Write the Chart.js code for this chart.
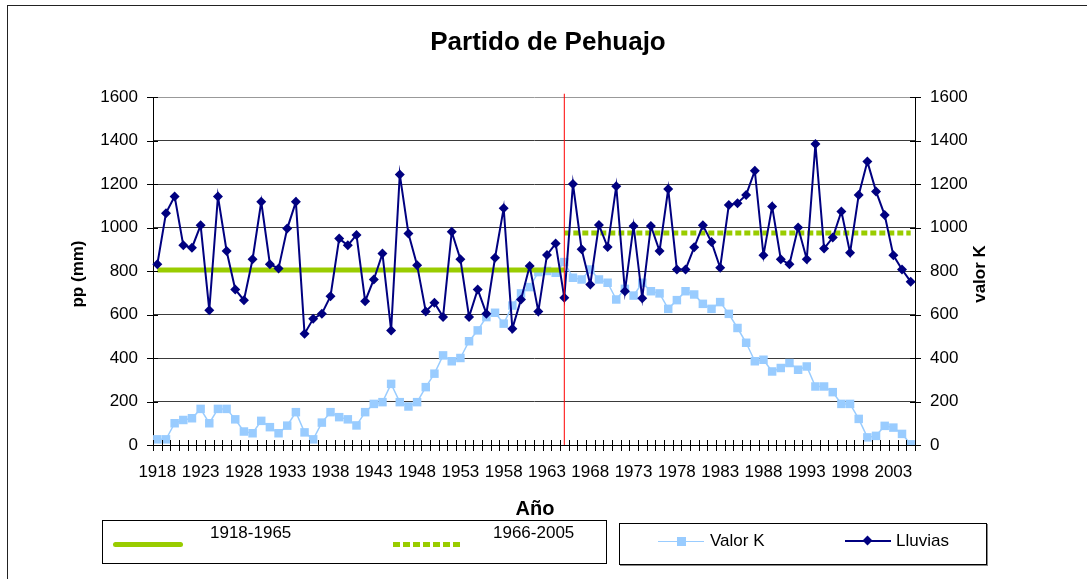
<!DOCTYPE html>
<html>
<head>
<meta charset="utf-8">
<script src="https://cdn.jsdelivr.net/npm/chart.js@4"></script>
<style>
  body { margin: 0; background: #fff; font-family: "Liberation Sans", Arial, sans-serif; }
  #wrap { position: relative; width: 1087px; height: 579px; overflow: hidden; }
  canvas { position: absolute; left: 0; top: 0; }
  .abs { position: absolute; white-space: nowrap; color: #000; }
  .frame { position: absolute; left: 7px; top: 5px; width: 1100px; height: 600px; border: 1.5px solid #222; pointer-events: none; }
  .title { left: 0; width: 1096px; top: 26px; text-align: center; font-weight: bold; font-size: 26px; line-height: 30px; }
  .ytitle { font-weight: bold; font-size: 17px; line-height: 20px; transform: translate(-50%, -50%) rotate(-90deg); }
  .xtitle { left: 535px; top: 508px; font-weight: bold; font-size: 20px; transform: translate(-50%, -50%); }
  .box { position: absolute; border: 1px solid #000; background: #fff; }
  .ltext { font-size: 17px; line-height: 20px; }
</style>
</head>
<body>
<div id="wrap">
  <canvas id="chart" width="1087" height="579"></canvas>
  <div class="frame"></div>
  <div class="abs title">Partido de Pehuajo</div>
  <div class="abs ytitle" style="left:78px; top:274px;">pp (mm)</div>
  <div class="abs ytitle" style="left:980px; top:274px;">valor K</div>
  <div class="abs xtitle">Año</div>

  <div class="box" style="left:102px; top:520px; width:503px; height:42px;"></div>
  <div class="abs" style="left:113px; top:542px; width:70px; height:5px; background:#99CC00; border-radius:3px;"></div>
  <div class="abs ltext" style="left:210px; top:523px;">1918-1965</div>
  <div class="abs" style="left:393px; top:542px; width:67px; height:5px; background:repeating-linear-gradient(to right, #99CC00 0 7px, transparent 7px 10px);"></div>
  <div class="abs ltext" style="left:493px; top:523px;">1966-2005</div>

  <div class="box" style="left:619px; top:523px; width:366px; height:40px; box-shadow:1px 1px 0 #888;"></div>
  <div class="abs" style="left:658px; top:541px; width:46px; height:1px; background:#99CCFF;"></div>
  <div class="abs" style="left:677px; top:537px; width:9px; height:9px; background:#99CCFF;"></div>
  <div class="abs ltext" style="left:710px; top:531px;">Valor K</div>
  <div class="abs" style="left:845px; top:540px; width:46px; height:2px; background:#000080;"></div>
  <div class="abs" style="left:864px; top:537px; width:7px; height:7px; background:#000080; transform:rotate(45deg);"></div>
  <div class="abs ltext" style="left:896px; top:531px;">Lluvias</div>
</div>
<script>
// years 1918..2005
const years = ['1918','1919','1920','1921','1922','1923','1924','1925','1926','1927',
  '1928','1929','1930','1931','1932','1933','1934','1935','1936','1937',
  '1938','1939','1940','1941','1942','1943','1944','1945','1946','1947',
  '1948','1949','1950','1951','1952','1953','1954','1955','1956','1957',
  '1958','1959','1960','1961','1962','1963','1964','1965',
  '1966','1967','1968','1969','1970','1971','1972','1973','1974','1975',
  '1976','1977','1978','1979','1980','1981','1982','1983','1984','1985',
  '1986','1987','1988','1989','1990','1991','1992','1993','1994','1995',
  '1996','1997','1998','1999','2000','2001','2002','2003','2004','2005'];

// precipitation (mm)
const lluvias = [831,1066,1143,918,907,1010,620,1143,892,715,
  666,854,1118,831,812,995,1118,512,580,604,
  684,949,918,966,661,761,880,527,1244,972,
  827,614,654,589,980,854,589,715,604,861,
  1089,535,669,823,614,874,926,677,
  1200,900,738,1012,910,1190,707,1007,675,1007,
  892,1177,807,807,909,1010,933,815,1104,1112,
  1150,1261,872,1097,854,831,1000,854,1384,903,
  954,1074,884,1150,1303,1166,1057,872,807,751];

const valorK = [26,26,100,115,123,166,100,166,166,118,
  62,54,111,82,54,89,151,58,26,103,
  151,128,118,90,151,189,197,281,197,177,
  197,266,328,412,385,400,477,527,588,608,
  558,641,697,726,795,800,792,841,
  769,761,807,761,746,669,718,687,746,707,
  697,626,666,707,692,649,626,657,603,538,
  470,385,392,338,354,377,346,361,269,269,
  243,189,189,120,35,42,88,80,51,3];

// period means
const mean1918_1965 = 805;
const mean1966_2005 = 975;
const splitYear = '1965';
const redLine = [0, 1615];

const splitIdx = years.indexOf(splitYear);
const earlyLine = years.map((y, i) => i <= splitIdx ? mean1918_1965 : null);
const lateLine = years.map((y, i) => i >= splitIdx ? mean1966_2005 : null);

// tick marks crossing the axes, like the original
const crossTicks = {
  id: 'crossTicks',
  afterDraw(chart) {
    const ctx = chart.ctx;
    const xs = chart.scales.x, yl = chart.scales.y, yr = chart.scales.y2;
    const bottom = chart.chartArea.bottom;
    ctx.save();
    ctx.strokeStyle = '#000';
    ctx.lineWidth = 1;
    ctx.beginPath();
    for (let i = 0; i <= years.length; i++) {
      const x = Math.round(xs.getPixelForValue(i - 0.5)) + 0.5;
      ctx.moveTo(x, bottom - 5);
      ctx.lineTo(x, bottom + 6);
    }
    yl.ticks.forEach(t => {
      const y = Math.round(yl.getPixelForValue(t.value)) + 0.5;
      ctx.moveTo(yl.right - 6, y);
      ctx.lineTo(yl.right + 5, y);
      ctx.moveTo(yr.left - 5, y);
      ctx.lineTo(yr.left + 6, y);
    });
    ctx.stroke();
    ctx.restore();
  }
};

Chart.defaults.font.family = '"Liberation Sans", Arial, sans-serif';
Chart.defaults.color = '#000';

const plainTick = (v) => String(v);

new Chart(document.getElementById('chart').getContext('2d'), {
  type: 'line',
  data: {
    labels: years,
    datasets: [
      {
        label: 'red',
        data: [{ x: splitYear, y: redLine[0] }, { x: splitYear, y: redLine[1] }],
        borderColor: '#FF0000',
        borderWidth: 1,
        pointRadius: 0,
        clip: false,
        order: 0,
      },
      {
        label: 'Lluvias',
        data: lluvias,
        borderColor: '#000080',
        backgroundColor: '#000080',
        borderWidth: 2,
        pointStyle: 'rectRot',
        pointRadius: 5,
        pointBorderWidth: 0,
        order: 1,
      },
      {
        label: '1918-1965',
        data: earlyLine,
        borderColor: '#99CC00',
        borderWidth: 5,
        pointRadius: 0,
        order: 2,
      },
      {
        label: '1966-2005',
        data: lateLine,
        borderColor: '#99CC00',
        borderWidth: 5,
        borderDash: [6, 3],
        pointRadius: 0,
        order: 3,
      },
      {
        label: 'Valor K',
        data: valorK,
        yAxisID: 'y2',
        borderColor: '#99CCFF',
        backgroundColor: '#99CCFF',
        borderWidth: 1.5,
        pointStyle: 'rect',
        pointRadius: 6,
        pointBorderWidth: 0,
        order: 4,
      },
    ],
  },
  options: {
    responsive: false,
    animation: false,
    layout: { padding: { top: 97, left: 0, right: 0, bottom: 0 } },
    plugins: {
      legend: { display: false },
      tooltip: { enabled: false },
    },
    scales: {
      x: {
        offset: true,
        grid: { display: false, drawTicks: false },
        border: { display: true, color: '#000', width: 1 },
        ticks: {
          autoSkip: false,
          maxRotation: 0,
          minRotation: 0,
          padding: 17,
          font: { size: 17 },
          callback: (v, i) => (i % 5 === 0 ? years[i] : ''),
        },
        afterFit: (s) => { s.height = 134; },
      },
      y: {
        position: 'left',
        min: 0,
        max: 1600,
        grid: {
          drawTicks: false,
          color: (c) => (c.tick && c.tick.value === 1600 ? '#999' : '#3a3a3a'),
        },
        border: { display: true, color: '#000', width: 1 },
        ticks: { stepSize: 200, padding: 15, font: { size: 17 }, callback: plainTick },
        afterFit: (s) => { s.width = 153; },
      },
      y2: {
        position: 'right',
        min: 0,
        max: 1600,
        grid: { drawOnChartArea: false, drawTicks: false },
        border: { display: true, color: '#000', width: 1 },
        ticks: { stepSize: 200, padding: 15, font: { size: 17 }, callback: plainTick },
        afterFit: (s) => { s.width = 172; },
      },
    },
  },
  plugins: [crossTicks],
});
</script>
</body>
</html>
